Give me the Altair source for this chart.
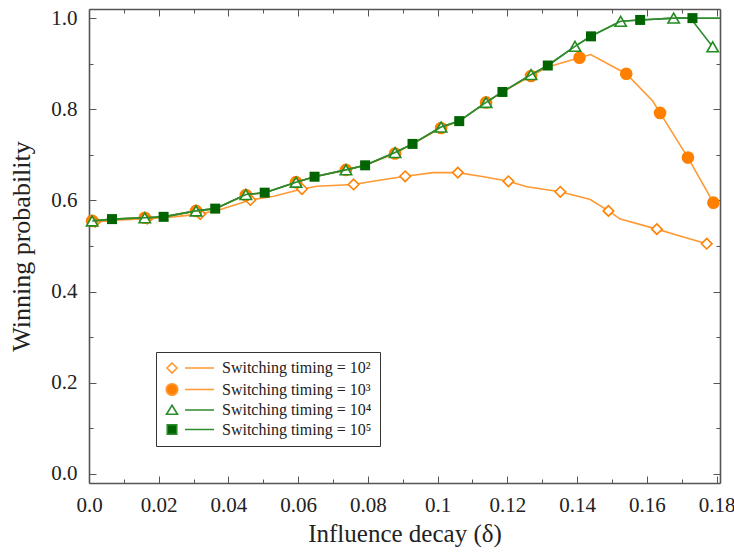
import altair as alt
import pandas as pd

FONT = "Liberation Serif"

# ---------------- data ----------------
SERIES = ["Switching timing = 10²", "Switching timing = 10³",
          "Switching timing = 10⁴", "Switching timing = 10⁵"]

X_TICKS = [0.0, 0.02, 0.04, 0.06, 0.08, 0.1, 0.12, 0.14, 0.16, 0.18]
X_MINOR = [0.01, 0.03, 0.05, 0.07, 0.09, 0.11, 0.13, 0.15, 0.17]
Y_TICKS = [0.0, 0.2, 0.4, 0.6, 0.8, 1.0]
Y_MINOR = [0.1, 0.3, 0.5, 0.7, 0.9]

# 10^2 (open diamonds); M = 1 where a marker is drawn
X1 = [0.0018, 0.009, 0.0167, 0.024, 0.0319, 0.0377, 0.0463, 0.053, 0.0611, 0.0654,
      0.0759, 0.0815, 0.0907, 0.0988, 0.1058, 0.1132, 0.1203, 0.1256, 0.1352, 0.1438,
      0.149, 0.1524, 0.1629, 0.170, 0.1772]
Y1 = [0.553, 0.557, 0.560, 0.564, 0.570, 0.580, 0.601, 0.609, 0.625, 0.631,
      0.635, 0.642, 0.653, 0.661, 0.661, 0.652, 0.642, 0.630, 0.619, 0.602,
      0.577, 0.559, 0.537, 0.521, 0.505]
M1 = [1, 0, 1, 0, 1, 0, 1, 0, 1, 0, 1, 0, 1, 0, 1, 0, 1, 0, 1, 0, 1, 0, 1, 0, 1]

# 10^3 (filled circles)
X2 = [0.0009, 0.0066, 0.016, 0.0214, 0.0307, 0.0362, 0.045, 0.0504, 0.0594, 0.0647,
      0.0737, 0.0792, 0.0878, 0.0928, 0.101, 0.1062, 0.1139, 0.1186, 0.1268, 0.1316,
      0.1407, 0.1439, 0.1541, 0.1617, 0.1638, 0.1718, 0.1791]
Y2 = [0.555, 0.559, 0.562, 0.564, 0.577, 0.582, 0.612, 0.617, 0.640, 0.652,
      0.667, 0.677, 0.703, 0.724, 0.759, 0.774, 0.815, 0.838, 0.873, 0.893,
      0.913, 0.920, 0.878, 0.818, 0.792, 0.694, 0.595]
M2 = [1, 0, 1, 0, 1, 0, 1, 0, 1, 0, 1, 0, 1, 0, 1, 0, 1, 0, 1, 0, 1, 0, 1, 0, 1, 1, 1]

# 10^4 (open triangles)
X3 = [0.0009, 0.0066, 0.016, 0.0214, 0.0307, 0.0362, 0.045, 0.0504, 0.0594, 0.0647,
      0.0737, 0.0792, 0.0878, 0.0928, 0.101, 0.1062, 0.1139, 0.1186, 0.1268, 0.1316,
      0.1394, 0.1440, 0.1525, 0.1581, 0.1677, 0.1725, 0.1789]
Y3 = [0.555, 0.559, 0.562, 0.564, 0.577, 0.582, 0.613, 0.617, 0.640, 0.652,
      0.667, 0.677, 0.705, 0.724, 0.761, 0.774, 0.815, 0.838, 0.876, 0.896,
      0.938, 0.961, 0.993, 0.996, 1.0, 1.0, 0.937]
M3 = [1, 0, 1, 0, 1, 0, 1, 0, 1, 0, 1, 0, 1, 0, 1, 0, 1, 0, 1, 0, 1, 0, 1, 0, 1, 0, 1]

# 10^5 (filled squares)
X4 = [0.0009, 0.0066, 0.016, 0.0214, 0.0307, 0.0362, 0.045, 0.0504, 0.0594, 0.0647,
      0.0737, 0.0792, 0.0878, 0.0928, 0.101, 0.1062, 0.1139, 0.1186, 0.1268, 0.1316,
      0.1394, 0.1440, 0.1525, 0.1581, 0.1677, 0.1731, 0.181]
Y4 = [0.555, 0.559, 0.562, 0.564, 0.577, 0.582, 0.613, 0.617, 0.640, 0.652,
      0.667, 0.677, 0.705, 0.724, 0.761, 0.774, 0.815, 0.838, 0.876, 0.896,
      0.938, 0.960, 0.993, 0.996, 1.0, 1.0, 1.0]
M4 = [0, 1, 0, 1, 0, 1, 0, 1, 0, 1, 0, 1, 0, 1, 0, 1, 0, 1, 0, 1, 0, 1, 0, 1, 0, 1, 0]

# ---------------- styling ----------------
ORANGE = "#ff8000"
ORANGE_LINE = "#ff9933"
GREEN = "#228b22"
GREEN_LINE = "#2e8b2e"
DARK_GREEN = "#006400"
AX = "#555555"
TXT = "#222222"


def df(x, y, m, name):
    return pd.DataFrame({"x": x, "y": y, "m": m, "series": name})


d1, d2, d3, d4 = (df(X1, Y1, M1, SERIES[0]), df(X2, Y2, M2, SERIES[1]),
                  df(X3, Y3, M3, SERIES[2]), df(X4, Y4, M4, SERIES[3]))

xs = alt.Scale(domain=[0, 0.181], nice=False, zero=False)
ys = alt.Scale(domain=[-0.02, 1.02], nice=False, zero=False)

common = dict(domain=False, grid=False, tickColor=AX, tickWidth=1, labelFlush=False,
              labelOverlap=False)

ax_b = alt.Axis(orient="bottom", values=X_TICKS, tickSize=7, offset=-7,
                labelExpr="datum.value == 0 ? '0.0' : format(datum.value, '.2~f')",
                labelFont=FONT, labelFontSize=21, labelColor=TXT, labelPadding=11,
                title="Influence decay (δ)", titleFont=FONT, titleFontSize=25,
                titleFontWeight="normal", titleColor=TXT, titlePadding=6, **common)
ax_b_min = alt.Axis(orient="bottom", values=X_MINOR, tickSize=4, offset=-4,
                    labels=False, title=None, **common)
ax_t = alt.Axis(orient="top", values=X_TICKS, tickSize=7, offset=-7,
                labels=False, title=None, **common)
ax_t_min = alt.Axis(orient="top", values=X_MINOR, tickSize=4, offset=-4,
                    labels=False, title=None, **common)

ax_l = alt.Axis(orient="left", values=Y_TICKS, tickSize=7, offset=-7, format=".1f",
                labelFont=FONT, labelFontSize=21, labelColor=TXT, labelPadding=12,
                title="Winning probability", titleFont=FONT, titleFontSize=26,
                titleFontWeight="normal", titleColor=TXT, titlePadding=16, **common)
ax_l_min = alt.Axis(orient="left", values=Y_MINOR, tickSize=4, offset=-4,
                    labels=False, title=None, **common)
ax_r = alt.Axis(orient="right", values=Y_TICKS, tickSize=7, offset=-7,
                labels=False, title=None, **common)
ax_r_min = alt.Axis(orient="right", values=Y_MINOR, tickSize=4, offset=-4,
                    labels=False, title=None, **common)

# frame: plain domain lines on all four sides
frame_kw = dict(domain=True, domainColor=AX, domainWidth=1.6, ticks=False,
                labels=False, grid=False, title=None)
fr_b = alt.Axis(orient="bottom", **frame_kw)
fr_t = alt.Axis(orient="top", **frame_kw)
fr_l = alt.Axis(orient="left", **frame_kw)
fr_r = alt.Axis(orient="right", **frame_kw)


def enc(xa=None, ya=None):
    return dict(x=alt.X("x:Q", scale=xs, axis=xa),
                y=alt.Y("y:Q", scale=ys, axis=ya))


line1 = alt.Chart(d1).mark_line(color=ORANGE_LINE, strokeWidth=1.6).encode(**enc(ax_b, ax_l))
pts1 = alt.Chart(d1).transform_filter("datum.m == 1").mark_point(
    shape="diamond", filled=True, fill="white", stroke=ORANGE, strokeWidth=1.6,
    size=110, opacity=1).encode(**enc(ax_b_min, ax_l_min))
line2 = alt.Chart(d2).mark_line(color=ORANGE_LINE, strokeWidth=1.6).encode(**enc(ax_t, ax_r))
pts2 = alt.Chart(d2).transform_filter("datum.m == 1").mark_circle(
    color=ORANGE, size=160, opacity=1).encode(**enc(ax_t_min, ax_r_min))
line3 = alt.Chart(d3).mark_line(color=GREEN_LINE, strokeWidth=1.6).encode(**enc(fr_b, fr_l))
pts3 = alt.Chart(d3).transform_filter("datum.m == 1").mark_point(
    shape="triangle-up", filled=True, fill="white", stroke=GREEN, strokeWidth=1.6,
    size=130, opacity=1).encode(**enc(fr_t, fr_r))
line4 = alt.Chart(d4).mark_line(color=GREEN_LINE, strokeWidth=1.6).encode(**enc())
pts4 = alt.Chart(d4).transform_filter("datum.m == 1").mark_square(
    color=DARK_GREEN, size=100, opacity=1).encode(**enc())

# legend symbols: marker followed by a short line segment
LINE_SEG = "M2.6,0L8.4,0"
SHAPES = [
    "M0,-1L1,0L0,1L-1,0Z" + LINE_SEG,
    "M1.15,0A1.15,1.15,0,1,1,-1.15,0A1.15,1.15,0,1,1,1.15,0Z" + LINE_SEG,
    "M0,-0.95L1.1,0.85L-1.1,0.85Z" + LINE_SEG,
    "M-0.95,-0.95L0.95,-0.95L0.95,0.95L-0.95,0.95Z" + LINE_SEG,
]
FILLS = ["white", ORANGE, "white", DARK_GREEN]
STROKES = [ORANGE_LINE, ORANGE_LINE, GREEN_LINE, GREEN_LINE]

leg = alt.Legend(title=None, orient="none", legendX=67, legendY=343,
                 labelFont=FONT, labelFontSize=16, labelColor=TXT,
                 labelOffset=42, symbolSize=100, symbolStrokeWidth=1.6,
                 strokeColor="#333333", fillColor="white", padding=8,
                 rowPadding=3.5, symbolOpacity=1)

legend_layer = alt.Chart(pd.concat([d1, d2, d3, d4])).transform_filter(
    "datum.x > 1").mark_point(filled=True, opacity=1).encode(
    x=alt.X("x:Q", scale=xs, axis=None),
    y=alt.Y("y:Q", scale=ys, axis=None),
    shape=alt.Shape("series:N", scale=alt.Scale(domain=SERIES, range=SHAPES), legend=leg),
    fill=alt.Fill("series:N", scale=alt.Scale(domain=SERIES, range=FILLS), legend=leg),
    stroke=alt.Stroke("series:N", scale=alt.Scale(domain=SERIES, range=STROKES), legend=leg),
)

chart = alt.layer(
    line1, pts1, line2, pts2, line3, pts3, line4, pts4, legend_layer
).resolve_axis(x="independent", y="independent").properties(
    width=631, height=474,
    autosize=alt.AutoSizeParams(type="none"),
    padding={"left": 89, "top": 9, "right": 14, "bottom": 69},
).configure_view(stroke=None).configure(background="white")

chart.save("out.html", embed_options={"renderer": "svg", "actions": False})
